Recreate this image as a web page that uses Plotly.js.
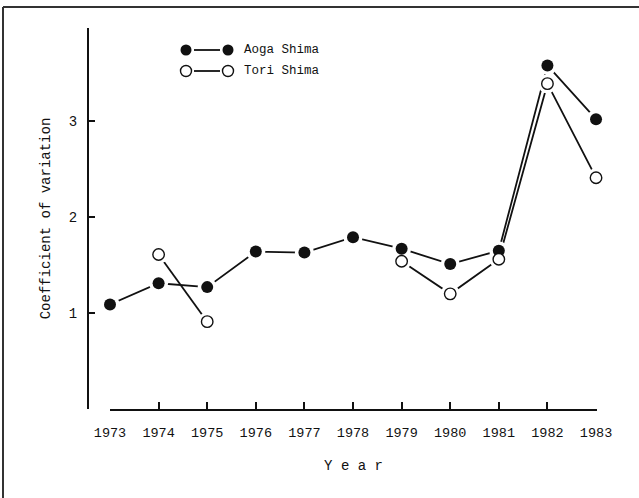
<!DOCTYPE html>
<html>
<head>
<meta charset="utf-8">
<script src="https://cdn.plot.ly/plotly-3.0.1.min.js"></script>
<style>
  html, body { margin: 0; padding: 0; background: #fff; }
  #chart { width: 639px; height: 498px; }
</style>
</head>
<body>
<div id="chart"></div>
<script>
// ---- data ----
const years = [1973, 1974, 1975, 1976, 1977, 1978, 1979, 1980, 1981, 1982, 1983];
const aogaShima = [1.09, 1.31, 1.27, 1.64, 1.63, 1.79, 1.67, 1.51, 1.65, 3.58, 3.02];
const toriShima = [null, 1.61, 0.91, null, null, null, 1.54, 1.20, 1.56, 3.39, 2.41];
const yTickVals = [0, 1, 2, 3];
const yTickText = ['', '1', '2', '3'];
const seriesNames = ['Aoga Shima', 'Tori Shima'];
const xTitle = 'Y e a r';
const yTitle = 'Coefficient of variation';

// ---- layout geometry (pixels) ----
const W = 639, H = 498;
const M = { l: 88, r: 42, t: 28, b: 89 };
const PW = W - M.l - M.r, PH = H - M.t - M.b;
const px = x => (x - M.l) / PW;
const py = y => (H - M.b - y) / PH;

const FONT = '"Liberation Mono", "DejaVu Sans Mono", monospace';
const INK = '#111111';

function lineTrace(y) {
  return { x: years, y: y, mode: 'lines', type: 'scatter', connectgaps: false,
    line: { color: INK, width: 1.8 }, showlegend: false, hoverinfo: 'skip', cliponaxis: false };
}
function haloTrace(y) {
  return { x: years, y: y, mode: 'markers', type: 'scatter',
    marker: { color: '#ffffff', size: 19, line: { width: 0 } },
    showlegend: false, hoverinfo: 'skip', cliponaxis: false };
}
function markerTrace(y, name, filled) {
  return { x: years, y: y, mode: 'markers', type: 'scatter', name: name,
    marker: { color: filled ? INK : '#ffffff', size: filled ? 12 : 11.5,
      line: { color: INK, width: filled ? 0 : 1.4 } },
    showlegend: false, cliponaxis: false };
}

const data = [
  lineTrace(aogaShima), lineTrace(toriShima),
  haloTrace(aogaShima), haloTrace(toriShima),
  markerTrace(aogaShima, seriesNames[0], true),
  markerTrace(toriShima, seriesNames[1], false)
];

// custom legend: marker — line — marker, like the original figure
const legendRows = [{ y: 50, filled: true }, { y: 71, filled: false }];
const shapes = [];
const annotations = [];
legendRows.forEach((row, i) => {
  const r = 5.5;
  [186, 228].forEach(cx => {
    shapes.push({ type: 'circle', xref: 'paper', yref: 'paper',
      x0: px(cx - r), x1: px(cx + r), y0: py(row.y + r), y1: py(row.y - r),
      fillcolor: row.filled ? INK : '#ffffff', line: { color: INK, width: row.filled ? 0 : 1.4 } });
  });
  shapes.push({ type: 'line', xref: 'paper', yref: 'paper',
    x0: px(194), x1: px(220), y0: py(row.y), y1: py(row.y), line: { color: INK, width: 1.8 } });
  annotations.push({ xref: 'paper', yref: 'paper', x: px(242), y: py(row.y), xanchor: 'left', yanchor: 'middle',
    text: seriesNames[i], showarrow: false, font: { family: FONT, size: 12.5, color: INK } });
});
// scanned page frame (top and left edges)
shapes.push({ type: 'line', xref: 'paper', yref: 'paper', x0: px(3), x1: px(639), y0: py(7), y1: py(7), line: { color: '#333', width: 2 } });
shapes.push({ type: 'line', xref: 'paper', yref: 'paper', x0: px(3), x1: px(3), y0: py(7), y1: py(498), line: { color: '#333', width: 2 } });

const layout = {
  width: W, height: H,
  margin: M,
  paper_bgcolor: '#ffffff', plot_bgcolor: '#ffffff',
  showlegend: false,
  font: { family: FONT, color: INK, size: 13 },
  xaxis: {
    domain: [px(110), 1],
    range: [1973, 1983.02],
    tickvals: years, ticktext: years.map(String),
    ticks: 'inside', ticklen: 7, tickwidth: 2, tickcolor: INK,
    showline: true, linecolor: INK, linewidth: 2,
    showgrid: false, zeroline: false,
    tickfont: { family: FONT, size: 13.5, color: INK },
    ticklabelstandoff: 10,
    title: { text: xTitle, font: { family: FONT, size: 14, color: INK }, standoff: 20 }
  },
  yaxis: {
    anchor: 'free', position: 0,
    range: [0, 3.97],
    tickvals: yTickVals, ticktext: yTickText,
    ticks: 'inside', ticklen: 6, tickwidth: 2, tickcolor: INK,
    showline: true, linecolor: INK, linewidth: 2,
    showgrid: false, zeroline: false,
    tickfont: { family: FONT, size: 14, color: INK },
    ticklabelstandoff: 7,
    title: { text: yTitle, font: { family: FONT, size: 14, color: INK }, standoff: 14 }
  },
  shapes: shapes,
  annotations: annotations
};

Plotly.newPlot('chart', data, layout, { displayModeBar: false, staticPlot: true });
</script>
</body>
</html>
